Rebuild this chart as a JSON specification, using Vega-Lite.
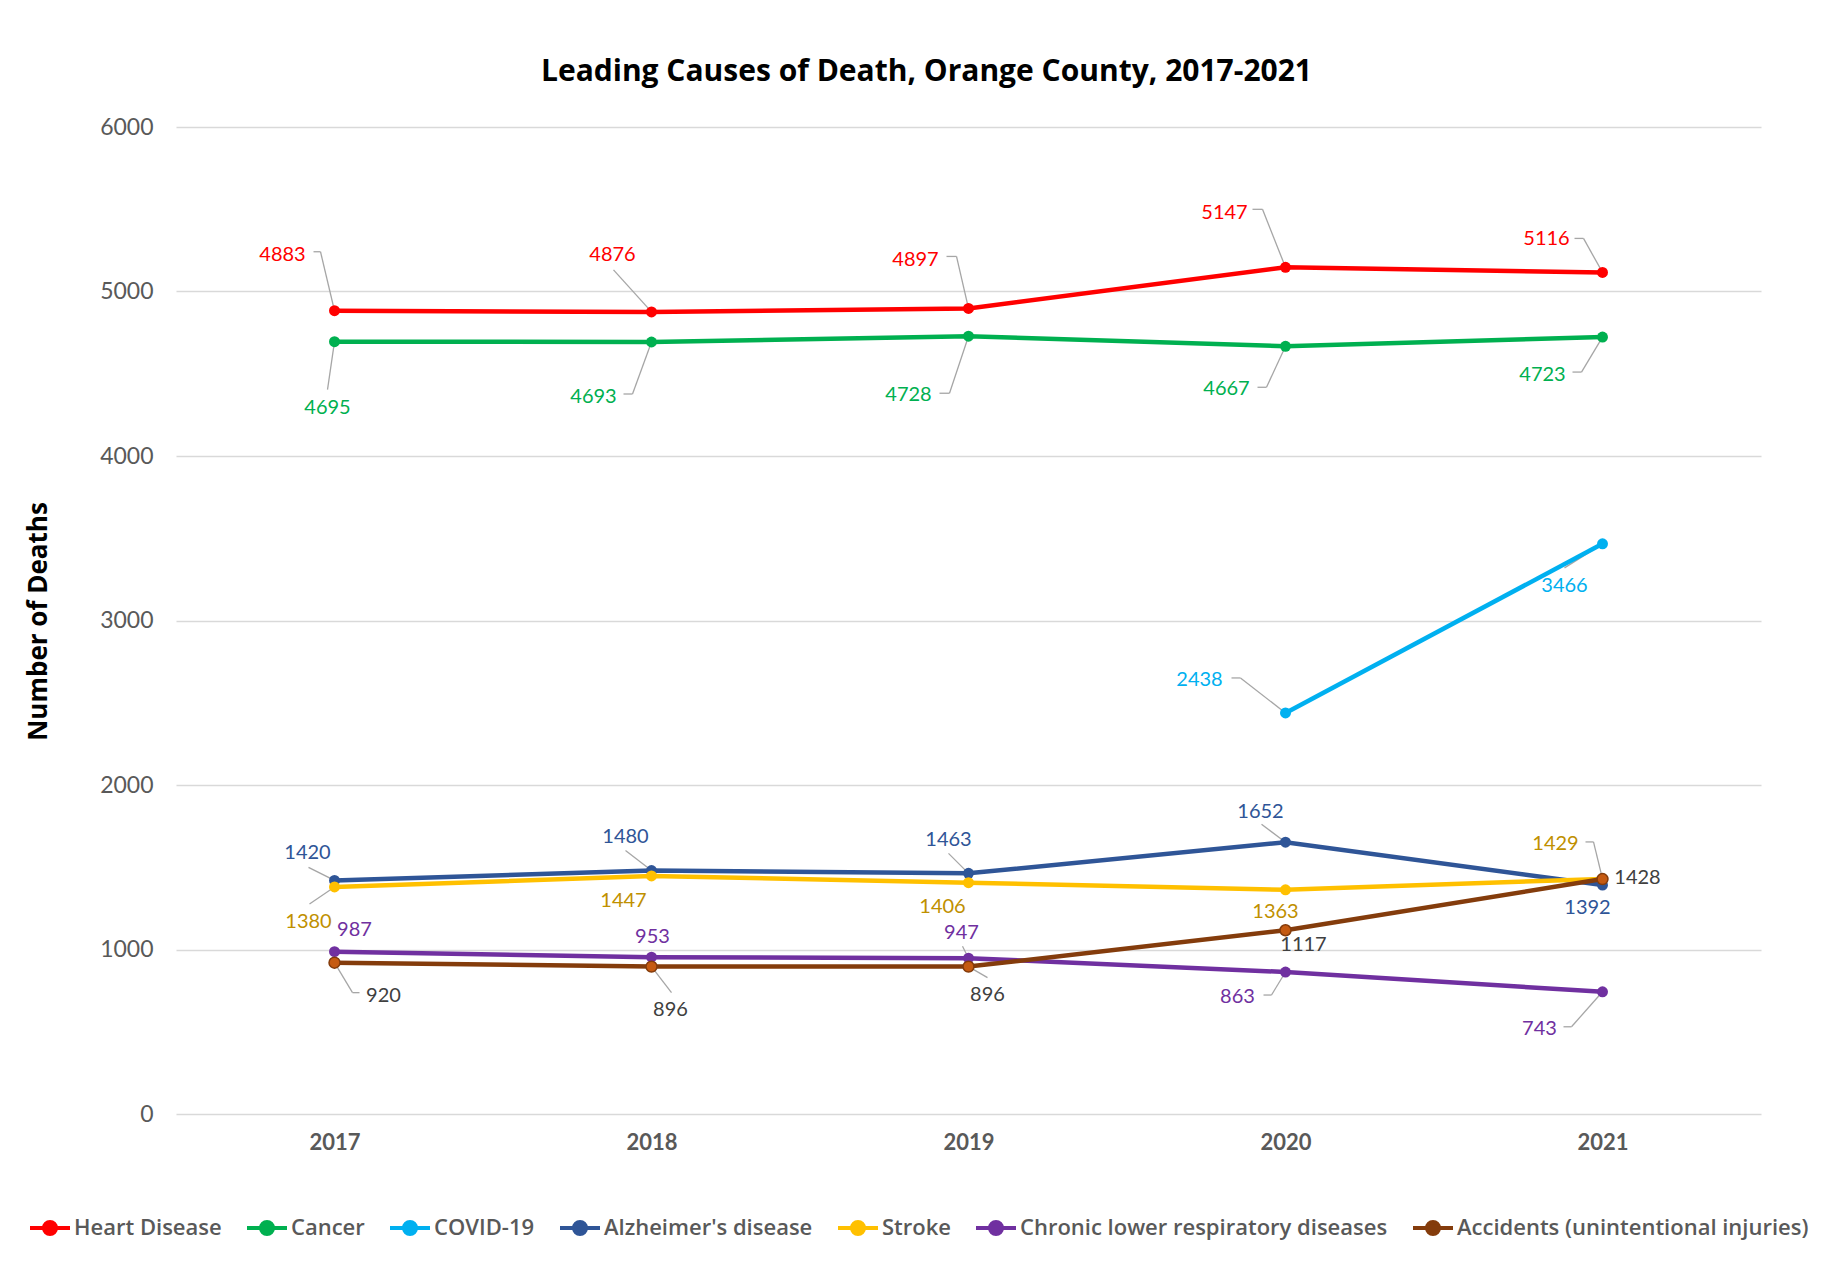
{
  "$schema": "https://vega.github.io/schema/vega-lite/v6.json",
  "autosize": "none",
  "width": 1585,
  "height": 987,
  "padding": {"left": 176, "top": 127, "right": 70, "bottom": 157},
  "background": "white",
  "config": {
    "font": "Lato",
    "view": {"stroke": null},
    "axis": {"gridColor": "#D9D9D9", "gridWidth": 1.3, "domain": false, "ticks": false, "labelColor": "#595959", "labelFont": "Lato"},
    "legend": {"labelFont": "Open Sans"},
    "text": {"fontSize": 20, "baseline": "middle", "font": "Lato"},
    "rule": {"stroke": "#A6A6A6", "strokeWidth": 1.3}
  },
  "title": {"text": "Leading Causes of Death, Orange County, 2017-2021", "fontSize": 30, "font": "Open Sans", "fontWeight": "bold", "color": "#000000", "offset": 29, "dx": -42},
  "data": {"values": [
    {"cause": "Heart Disease", "year": "2017", "deaths": 4883},
    {"cause": "Heart Disease", "year": "2018", "deaths": 4876},
    {"cause": "Heart Disease", "year": "2019", "deaths": 4897},
    {"cause": "Heart Disease", "year": "2020", "deaths": 5147},
    {"cause": "Heart Disease", "year": "2021", "deaths": 5116},
    {"cause": "Cancer", "year": "2017", "deaths": 4695},
    {"cause": "Cancer", "year": "2018", "deaths": 4693},
    {"cause": "Cancer", "year": "2019", "deaths": 4728},
    {"cause": "Cancer", "year": "2020", "deaths": 4667},
    {"cause": "Cancer", "year": "2021", "deaths": 4723},
    {"cause": "COVID-19", "year": "2020", "deaths": 2438},
    {"cause": "COVID-19", "year": "2021", "deaths": 3466},
    {"cause": "Alzheimer's disease", "year": "2017", "deaths": 1420},
    {"cause": "Alzheimer's disease", "year": "2018", "deaths": 1480},
    {"cause": "Alzheimer's disease", "year": "2019", "deaths": 1463},
    {"cause": "Alzheimer's disease", "year": "2020", "deaths": 1652},
    {"cause": "Alzheimer's disease", "year": "2021", "deaths": 1392},
    {"cause": "Stroke", "year": "2017", "deaths": 1380},
    {"cause": "Stroke", "year": "2018", "deaths": 1447},
    {"cause": "Stroke", "year": "2019", "deaths": 1406},
    {"cause": "Stroke", "year": "2020", "deaths": 1363},
    {"cause": "Stroke", "year": "2021", "deaths": 1429},
    {"cause": "Chronic lower respiratory diseases", "year": "2017", "deaths": 987},
    {"cause": "Chronic lower respiratory diseases", "year": "2018", "deaths": 953},
    {"cause": "Chronic lower respiratory diseases", "year": "2019", "deaths": 947},
    {"cause": "Chronic lower respiratory diseases", "year": "2020", "deaths": 863},
    {"cause": "Chronic lower respiratory diseases", "year": "2021", "deaths": 743},
    {"cause": "Accidents (unintentional injuries)", "year": "2017", "deaths": 920},
    {"cause": "Accidents (unintentional injuries)", "year": "2018", "deaths": 896},
    {"cause": "Accidents (unintentional injuries)", "year": "2019", "deaths": 896},
    {"cause": "Accidents (unintentional injuries)", "year": "2020", "deaths": 1117},
    {"cause": "Accidents (unintentional injuries)", "year": "2021", "deaths": 1428}
  ]},
  "encoding": {
    "x": {"field": "year", "type": "ordinal", "scale": {"type": "point", "padding": 0.5},
      "axis": {"title": null, "labelAngle": 0, "labelFontSize": 22, "labelFontWeight": "bold", "labelPadding": 18, "grid": false}},
    "y": {"field": "deaths", "type": "quantitative", "scale": {"domain": [0, 6000]},
      "axis": {"values": [0, 1000, 2000, 3000, 4000, 5000, 6000], "format": "d", "labelFontSize": 23, "labelPadding": 23,
        "title": "Number of Deaths", "titleFont": "Open Sans", "titleFontSize": 26, "titleFontWeight": "bold", "titleColor": "#000000", "titleX": -138, "titleY": 494, "titleAngle": -90, "titleBaseline": "middle", "titleAlign": "center"}},
    "color": {"field": "cause", "type": "nominal",
      "scale": {"domain": ["Heart Disease", "Cancer", "COVID-19", "Alzheimer's disease", "Stroke", "Chronic lower respiratory diseases", "Accidents (unintentional injuries)"],
        "range": ["#FF0000", "#00B050", "#00B0F0", "#2F5597", "#FFC000", "#7030A0", "#843C0C"]},
      "legend": {"title": null, "orient": "none", "legendX": -148, "legendY": 1079, "direction": "horizontal", "columns": 7,
        "symbolType": "M-1,0H1M0.3,0A0.3,0.3,0,1,1,-0.3,0A0.3,0.3,0,1,1,0.3,0Z", "symbolSize": 1600, "symbolStrokeWidth": 4,
        "labelFontSize": 22, "labelColor": "#595959", "labelFontWeight": 600, "labelLimit": 0, "columnPadding": 17, "labelOffset": 2}}
  },
  "layer": [
    {"transform": [{"filter": "datum.cause=='Heart Disease'&&datum.year=='2017'"}], "mark": {"type": "rule", "x2Offset": -14, "y2Offset": -59}, "encoding": {"x2": {"field": "year"}, "y2": {"field": "deaths"}, "color": {"value": "#A6A6A6"}}},
    {"transform": [{"filter": "datum.cause=='Heart Disease'&&datum.year=='2017'"}], "mark": {"type": "rule", "xOffset": -14, "yOffset": -59, "x2Offset": -21, "y2Offset": -59}, "encoding": {"x2": {"field": "year"}, "y2": {"field": "deaths"}, "color": {"value": "#A6A6A6"}}},
    {"transform": [{"filter": "datum.cause=='Heart Disease'&&datum.year=='2018'"}], "mark": {"type": "rule", "x2Offset": -38, "y2Offset": -42}, "encoding": {"x2": {"field": "year"}, "y2": {"field": "deaths"}, "color": {"value": "#A6A6A6"}}},
    {"transform": [{"filter": "datum.cause=='Heart Disease'&&datum.year=='2019'"}], "mark": {"type": "rule", "x2Offset": -12, "y2Offset": -52}, "encoding": {"x2": {"field": "year"}, "y2": {"field": "deaths"}, "color": {"value": "#A6A6A6"}}},
    {"transform": [{"filter": "datum.cause=='Heart Disease'&&datum.year=='2019'"}], "mark": {"type": "rule", "xOffset": -12, "yOffset": -52, "x2Offset": -22, "y2Offset": -52}, "encoding": {"x2": {"field": "year"}, "y2": {"field": "deaths"}, "color": {"value": "#A6A6A6"}}},
    {"transform": [{"filter": "datum.cause=='Heart Disease'&&datum.year=='2020'"}], "mark": {"type": "rule", "x2Offset": -23, "y2Offset": -58}, "encoding": {"x2": {"field": "year"}, "y2": {"field": "deaths"}, "color": {"value": "#A6A6A6"}}},
    {"transform": [{"filter": "datum.cause=='Heart Disease'&&datum.year=='2020'"}], "mark": {"type": "rule", "xOffset": -23, "yOffset": -58, "x2Offset": -33, "y2Offset": -58}, "encoding": {"x2": {"field": "year"}, "y2": {"field": "deaths"}, "color": {"value": "#A6A6A6"}}},
    {"transform": [{"filter": "datum.cause=='Heart Disease'&&datum.year=='2021'"}], "mark": {"type": "rule", "x2Offset": -19, "y2Offset": -34}, "encoding": {"x2": {"field": "year"}, "y2": {"field": "deaths"}, "color": {"value": "#A6A6A6"}}},
    {"transform": [{"filter": "datum.cause=='Heart Disease'&&datum.year=='2021'"}], "mark": {"type": "rule", "xOffset": -19, "yOffset": -34, "x2Offset": -28, "y2Offset": -34}, "encoding": {"x2": {"field": "year"}, "y2": {"field": "deaths"}, "color": {"value": "#A6A6A6"}}},

    {"transform": [{"filter": "datum.cause=='Cancer'&&datum.year=='2017'"}], "mark": {"type": "rule", "x2Offset": -7, "y2Offset": 48}, "encoding": {"x2": {"field": "year"}, "y2": {"field": "deaths"}, "color": {"value": "#A6A6A6"}}},
    {"transform": [{"filter": "datum.cause=='Cancer'&&datum.year=='2018'"}], "mark": {"type": "rule", "x2Offset": -19, "y2Offset": 52}, "encoding": {"x2": {"field": "year"}, "y2": {"field": "deaths"}, "color": {"value": "#A6A6A6"}}},
    {"transform": [{"filter": "datum.cause=='Cancer'&&datum.year=='2018'"}], "mark": {"type": "rule", "xOffset": -19, "yOffset": 52, "x2Offset": -28, "y2Offset": 52}, "encoding": {"x2": {"field": "year"}, "y2": {"field": "deaths"}, "color": {"value": "#A6A6A6"}}},
    {"transform": [{"filter": "datum.cause=='Cancer'&&datum.year=='2019'"}], "mark": {"type": "rule", "x2Offset": -19, "y2Offset": 57}, "encoding": {"x2": {"field": "year"}, "y2": {"field": "deaths"}, "color": {"value": "#A6A6A6"}}},
    {"transform": [{"filter": "datum.cause=='Cancer'&&datum.year=='2019'"}], "mark": {"type": "rule", "xOffset": -19, "yOffset": 57, "x2Offset": -29, "y2Offset": 57}, "encoding": {"x2": {"field": "year"}, "y2": {"field": "deaths"}, "color": {"value": "#A6A6A6"}}},
    {"transform": [{"filter": "datum.cause=='Cancer'&&datum.year=='2020'"}], "mark": {"type": "rule", "x2Offset": -19, "y2Offset": 41}, "encoding": {"x2": {"field": "year"}, "y2": {"field": "deaths"}, "color": {"value": "#A6A6A6"}}},
    {"transform": [{"filter": "datum.cause=='Cancer'&&datum.year=='2020'"}], "mark": {"type": "rule", "xOffset": -19, "yOffset": 41, "x2Offset": -28, "y2Offset": 41}, "encoding": {"x2": {"field": "year"}, "y2": {"field": "deaths"}, "color": {"value": "#A6A6A6"}}},
    {"transform": [{"filter": "datum.cause=='Cancer'&&datum.year=='2021'"}], "mark": {"type": "rule", "x2Offset": -21, "y2Offset": 35}, "encoding": {"x2": {"field": "year"}, "y2": {"field": "deaths"}, "color": {"value": "#A6A6A6"}}},
    {"transform": [{"filter": "datum.cause=='Cancer'&&datum.year=='2021'"}], "mark": {"type": "rule", "xOffset": -21, "yOffset": 35, "x2Offset": -30, "y2Offset": 35}, "encoding": {"x2": {"field": "year"}, "y2": {"field": "deaths"}, "color": {"value": "#A6A6A6"}}},

    {"transform": [{"filter": "datum.cause=='COVID-19'&&datum.year=='2020'"}], "mark": {"type": "rule", "x2Offset": -45, "y2Offset": -35}, "encoding": {"x2": {"field": "year"}, "y2": {"field": "deaths"}, "color": {"value": "#A6A6A6"}}},
    {"transform": [{"filter": "datum.cause=='COVID-19'&&datum.year=='2020'"}], "mark": {"type": "rule", "xOffset": -45, "yOffset": -35, "x2Offset": -54, "y2Offset": -35}, "encoding": {"x2": {"field": "year"}, "y2": {"field": "deaths"}, "color": {"value": "#A6A6A6"}}},
    {"transform": [{"filter": "datum.cause=='COVID-19'&&datum.year=='2021'"}], "mark": {"type": "rule", "x2Offset": -38, "y2Offset": 24}, "encoding": {"x2": {"field": "year"}, "y2": {"field": "deaths"}, "color": {"value": "#A6A6A6"}}},

    {"transform": [{"filter": "datum.cause==\"Alzheimer's disease\"&&datum.year=='2017'"}], "mark": {"type": "rule", "x2Offset": -26, "y2Offset": -13}, "encoding": {"x2": {"field": "year"}, "y2": {"field": "deaths"}, "color": {"value": "#A6A6A6"}}},
    {"transform": [{"filter": "datum.cause==\"Alzheimer's disease\"&&datum.year=='2018'"}], "mark": {"type": "rule", "x2Offset": -26, "y2Offset": -20}, "encoding": {"x2": {"field": "year"}, "y2": {"field": "deaths"}, "color": {"value": "#A6A6A6"}}},
    {"transform": [{"filter": "datum.cause==\"Alzheimer's disease\"&&datum.year=='2019'"}], "mark": {"type": "rule", "x2Offset": -20, "y2Offset": -20}, "encoding": {"x2": {"field": "year"}, "y2": {"field": "deaths"}, "color": {"value": "#A6A6A6"}}},
    {"transform": [{"filter": "datum.cause==\"Alzheimer's disease\"&&datum.year=='2020'"}], "mark": {"type": "rule", "x2Offset": -24, "y2Offset": -18}, "encoding": {"x2": {"field": "year"}, "y2": {"field": "deaths"}, "color": {"value": "#A6A6A6"}}},

    {"transform": [{"filter": "datum.cause=='Stroke'&&datum.year=='2017'"}], "mark": {"type": "rule", "x2Offset": -25, "y2Offset": 17}, "encoding": {"x2": {"field": "year"}, "y2": {"field": "deaths"}, "color": {"value": "#A6A6A6"}}},
    {"transform": [{"filter": "datum.cause=='Stroke'&&datum.year=='2021'"}], "mark": {"type": "rule", "x2Offset": -9, "y2Offset": -37}, "encoding": {"x2": {"field": "year"}, "y2": {"field": "deaths"}, "color": {"value": "#A6A6A6"}}},
    {"transform": [{"filter": "datum.cause=='Stroke'&&datum.year=='2021'"}], "mark": {"type": "rule", "xOffset": -9, "yOffset": -37, "x2Offset": -17, "y2Offset": -37}, "encoding": {"x2": {"field": "year"}, "y2": {"field": "deaths"}, "color": {"value": "#A6A6A6"}}},

    {"transform": [{"filter": "datum.cause=='Chronic lower respiratory diseases'&&datum.year=='2019'"}], "mark": {"type": "rule", "x2Offset": -6, "y2Offset": -12}, "encoding": {"x2": {"field": "year"}, "y2": {"field": "deaths"}, "color": {"value": "#A6A6A6"}}},
    {"transform": [{"filter": "datum.cause=='Chronic lower respiratory diseases'&&datum.year=='2020'"}], "mark": {"type": "rule", "x2Offset": -14, "y2Offset": 23}, "encoding": {"x2": {"field": "year"}, "y2": {"field": "deaths"}, "color": {"value": "#A6A6A6"}}},
    {"transform": [{"filter": "datum.cause=='Chronic lower respiratory diseases'&&datum.year=='2020'"}], "mark": {"type": "rule", "xOffset": -14, "yOffset": 23, "x2Offset": -22, "y2Offset": 23}, "encoding": {"x2": {"field": "year"}, "y2": {"field": "deaths"}, "color": {"value": "#A6A6A6"}}},
    {"transform": [{"filter": "datum.cause=='Chronic lower respiratory diseases'&&datum.year=='2021'"}], "mark": {"type": "rule", "x2Offset": -31, "y2Offset": 35}, "encoding": {"x2": {"field": "year"}, "y2": {"field": "deaths"}, "color": {"value": "#A6A6A6"}}},
    {"transform": [{"filter": "datum.cause=='Chronic lower respiratory diseases'&&datum.year=='2021'"}], "mark": {"type": "rule", "xOffset": -31, "yOffset": 35, "x2Offset": -39, "y2Offset": 35}, "encoding": {"x2": {"field": "year"}, "y2": {"field": "deaths"}, "color": {"value": "#A6A6A6"}}},

    {"transform": [{"filter": "datum.cause=='Accidents (unintentional injuries)'&&datum.year=='2017'"}], "mark": {"type": "rule", "x2Offset": 18, "y2Offset": 30}, "encoding": {"x2": {"field": "year"}, "y2": {"field": "deaths"}, "color": {"value": "#A6A6A6"}}},
    {"transform": [{"filter": "datum.cause=='Accidents (unintentional injuries)'&&datum.year=='2017'"}], "mark": {"type": "rule", "xOffset": 18, "yOffset": 30, "x2Offset": 25, "y2Offset": 30}, "encoding": {"x2": {"field": "year"}, "y2": {"field": "deaths"}, "color": {"value": "#A6A6A6"}}},
    {"transform": [{"filter": "datum.cause=='Accidents (unintentional injuries)'&&datum.year=='2018'"}], "mark": {"type": "rule", "x2Offset": 20, "y2Offset": 26}, "encoding": {"x2": {"field": "year"}, "y2": {"field": "deaths"}, "color": {"value": "#A6A6A6"}}},
    {"transform": [{"filter": "datum.cause=='Accidents (unintentional injuries)'&&datum.year=='2019'"}], "mark": {"type": "rule", "x2Offset": 19, "y2Offset": 11}, "encoding": {"x2": {"field": "year"}, "y2": {"field": "deaths"}, "color": {"value": "#A6A6A6"}}},

    {"mark": {"type": "line", "strokeWidth": 4.5}},
    {"mark": {"type": "circle", "size": 120, "opacity": 1}},
    {"transform": [{"filter": "datum.cause=='Accidents (unintentional injuries)'"}], "mark": {"type": "circle", "size": 120, "opacity": 1, "stroke": "#843C0C", "strokeWidth": 1.5}, "encoding": {"color": {"value": "#C55A11"}}},

    {"transform": [{"filter": "datum.cause=='Heart Disease'&&datum.year=='2017'"}], "mark": {"type": "text", "dx": -52, "dy": -56}, "encoding": {"text": {"field": "deaths"}, "color": {"value": "#FF0000"}}},
    {"transform": [{"filter": "datum.cause=='Heart Disease'&&datum.year=='2018'"}], "mark": {"type": "text", "dx": -39, "dy": -57}, "encoding": {"text": {"field": "deaths"}, "color": {"value": "#FF0000"}}},
    {"transform": [{"filter": "datum.cause=='Heart Disease'&&datum.year=='2019'"}], "mark": {"type": "text", "dx": -53, "dy": -48}, "encoding": {"text": {"field": "deaths"}, "color": {"value": "#FF0000"}}},
    {"transform": [{"filter": "datum.cause=='Heart Disease'&&datum.year=='2020'"}], "mark": {"type": "text", "dx": -61, "dy": -54}, "encoding": {"text": {"field": "deaths"}, "color": {"value": "#FF0000"}}},
    {"transform": [{"filter": "datum.cause=='Heart Disease'&&datum.year=='2021'"}], "mark": {"type": "text", "dx": -56, "dy": -33}, "encoding": {"text": {"field": "deaths"}, "color": {"value": "#FF0000"}}},

    {"transform": [{"filter": "datum.cause=='Cancer'&&datum.year=='2017'"}], "mark": {"type": "text", "dx": -7, "dy": 66}, "encoding": {"text": {"field": "deaths"}, "color": {"value": "#00B050"}}},
    {"transform": [{"filter": "datum.cause=='Cancer'&&datum.year=='2018'"}], "mark": {"type": "text", "dx": -58, "dy": 55}, "encoding": {"text": {"field": "deaths"}, "color": {"value": "#00B050"}}},
    {"transform": [{"filter": "datum.cause=='Cancer'&&datum.year=='2019'"}], "mark": {"type": "text", "dx": -60, "dy": 59}, "encoding": {"text": {"field": "deaths"}, "color": {"value": "#00B050"}}},
    {"transform": [{"filter": "datum.cause=='Cancer'&&datum.year=='2020'"}], "mark": {"type": "text", "dx": -59, "dy": 43}, "encoding": {"text": {"field": "deaths"}, "color": {"value": "#00B050"}}},
    {"transform": [{"filter": "datum.cause=='Cancer'&&datum.year=='2021'"}], "mark": {"type": "text", "dx": -60, "dy": 38}, "encoding": {"text": {"field": "deaths"}, "color": {"value": "#00B050"}}},

    {"transform": [{"filter": "datum.cause=='COVID-19'&&datum.year=='2020'"}], "mark": {"type": "text", "dx": -86, "dy": -33}, "encoding": {"text": {"field": "deaths"}, "color": {"value": "#00B0F0"}}},
    {"transform": [{"filter": "datum.cause=='COVID-19'&&datum.year=='2021'"}], "mark": {"type": "text", "dx": -38, "dy": 42}, "encoding": {"text": {"field": "deaths"}, "color": {"value": "#00B0F0"}}},

    {"transform": [{"filter": "datum.cause==\"Alzheimer's disease\"&&datum.year=='2017'"}], "mark": {"type": "text", "dx": -27, "dy": -27}, "encoding": {"text": {"field": "deaths"}, "color": {"value": "#2F5597"}}},
    {"transform": [{"filter": "datum.cause==\"Alzheimer's disease\"&&datum.year=='2018'"}], "mark": {"type": "text", "dx": -26, "dy": -34}, "encoding": {"text": {"field": "deaths"}, "color": {"value": "#2F5597"}}},
    {"transform": [{"filter": "datum.cause==\"Alzheimer's disease\"&&datum.year=='2019'"}], "mark": {"type": "text", "dx": -20, "dy": -33}, "encoding": {"text": {"field": "deaths"}, "color": {"value": "#2F5597"}}},
    {"transform": [{"filter": "datum.cause==\"Alzheimer's disease\"&&datum.year=='2020'"}], "mark": {"type": "text", "dx": -25, "dy": -30}, "encoding": {"text": {"field": "deaths"}, "color": {"value": "#2F5597"}}},
    {"transform": [{"filter": "datum.cause==\"Alzheimer's disease\"&&datum.year=='2021'"}], "mark": {"type": "text", "dx": -15, "dy": 23}, "encoding": {"text": {"field": "deaths"}, "color": {"value": "#2F5597"}}},

    {"transform": [{"filter": "datum.cause=='Stroke'&&datum.year=='2017'"}], "mark": {"type": "text", "dx": -26, "dy": 35}, "encoding": {"text": {"field": "deaths"}, "color": {"value": "#BF9000"}}},
    {"transform": [{"filter": "datum.cause=='Stroke'&&datum.year=='2018'"}], "mark": {"type": "text", "dx": -28, "dy": 25}, "encoding": {"text": {"field": "deaths"}, "color": {"value": "#BF9000"}}},
    {"transform": [{"filter": "datum.cause=='Stroke'&&datum.year=='2019'"}], "mark": {"type": "text", "dx": -26, "dy": 24}, "encoding": {"text": {"field": "deaths"}, "color": {"value": "#BF9000"}}},
    {"transform": [{"filter": "datum.cause=='Stroke'&&datum.year=='2020'"}], "mark": {"type": "text", "dx": -10, "dy": 22}, "encoding": {"text": {"field": "deaths"}, "color": {"value": "#BF9000"}}},
    {"transform": [{"filter": "datum.cause=='Stroke'&&datum.year=='2021'"}], "mark": {"type": "text", "dx": -47, "dy": -35}, "encoding": {"text": {"field": "deaths"}, "color": {"value": "#BF9000"}}},

    {"transform": [{"filter": "datum.cause=='Chronic lower respiratory diseases'&&datum.year=='2017'"}], "mark": {"type": "text", "dx": 20, "dy": -22}, "encoding": {"text": {"field": "deaths"}, "color": {"value": "#7030A0"}}},
    {"transform": [{"filter": "datum.cause=='Chronic lower respiratory diseases'&&datum.year=='2018'"}], "mark": {"type": "text", "dx": 1, "dy": -20}, "encoding": {"text": {"field": "deaths"}, "color": {"value": "#7030A0"}}},
    {"transform": [{"filter": "datum.cause=='Chronic lower respiratory diseases'&&datum.year=='2019'"}], "mark": {"type": "text", "dx": -7, "dy": -25}, "encoding": {"text": {"field": "deaths"}, "color": {"value": "#7030A0"}}},
    {"transform": [{"filter": "datum.cause=='Chronic lower respiratory diseases'&&datum.year=='2020'"}], "mark": {"type": "text", "dx": -48, "dy": 25}, "encoding": {"text": {"field": "deaths"}, "color": {"value": "#7030A0"}}},
    {"transform": [{"filter": "datum.cause=='Chronic lower respiratory diseases'&&datum.year=='2021'"}], "mark": {"type": "text", "dx": -63, "dy": 37}, "encoding": {"text": {"field": "deaths"}, "color": {"value": "#7030A0"}}},

    {"transform": [{"filter": "datum.cause=='Accidents (unintentional injuries)'&&datum.year=='2017'"}], "mark": {"type": "text", "dx": 49, "dy": 33}, "encoding": {"text": {"field": "deaths"}, "color": {"value": "#404040"}}},
    {"transform": [{"filter": "datum.cause=='Accidents (unintentional injuries)'&&datum.year=='2018'"}], "mark": {"type": "text", "dx": 19, "dy": 43}, "encoding": {"text": {"field": "deaths"}, "color": {"value": "#404040"}}},
    {"transform": [{"filter": "datum.cause=='Accidents (unintentional injuries)'&&datum.year=='2019'"}], "mark": {"type": "text", "dx": 19, "dy": 28}, "encoding": {"text": {"field": "deaths"}, "color": {"value": "#404040"}}},
    {"transform": [{"filter": "datum.cause=='Accidents (unintentional injuries)'&&datum.year=='2020'"}], "mark": {"type": "text", "dx": 18, "dy": 15}, "encoding": {"text": {"field": "deaths"}, "color": {"value": "#404040"}}},
    {"transform": [{"filter": "datum.cause=='Accidents (unintentional injuries)'&&datum.year=='2021'"}], "mark": {"type": "text", "dx": 35, "dy": -1}, "encoding": {"text": {"field": "deaths"}, "color": {"value": "#404040"}}}
  ]
}
